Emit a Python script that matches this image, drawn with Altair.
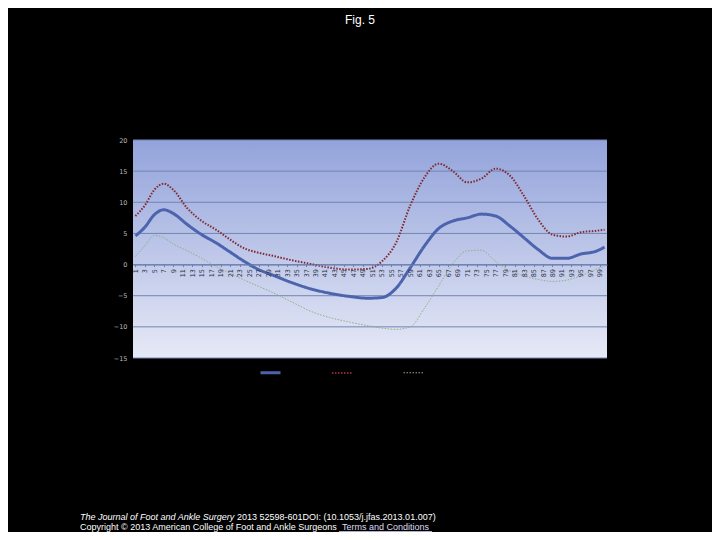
import altair as alt
import pandas as pd

# ---- data ----
pct = [1, 3, 5, 7, 9, 12, 15, 18, 21, 24, 27, 30, 34, 38, 42, 46, 50, 53, 56, 59,
       62, 65, 68, 71, 74, 77, 80, 83, 86, 89, 92, 95, 98, 100]
mean_vals = [4.6, 6.0, 8.0, 8.8, 8.2, 6.4, 4.8, 3.5, 2.0, 0.5, -0.8, -1.7, -2.9, -3.9,
             -4.6, -5.1, -5.4, -5.3, -3.8, -0.5, 3.0, 5.8, 7.0, 7.5, 8.1, 7.8, 6.2,
             4.3, 2.4, 1.0, 1.0, 1.7, 2.1, 2.8]
upper_vals = [7.8, 9.5, 12.0, 13.0, 12.0, 9.0, 7.0, 5.6, 4.0, 2.6, 1.9, 1.4, 0.7, 0.1,
              -0.5, -0.8, -0.7, 0.5, 3.5, 9.5, 14.0, 16.2, 15.0, 13.2, 13.8, 15.4,
              14.3, 11.0, 7.2, 4.8, 4.5, 5.2, 5.4, 5.6]
lower_vals = [1.3, 3.0, 4.7, 4.3, 3.3, 2.2, 1.0, -0.3, -1.4, -2.5, -3.5, -4.5, -6.0,
              -7.5, -8.5, -9.2, -9.8, -10.2, -10.4, -10.0, -7.0, -3.4, 0.2, 2.2, 2.3,
              0.5, -1.0, -1.8, -2.4, -2.7, -2.5, -1.8, -0.8, -0.3]
series_names = ["Mean", "Mean + SD", "Mean - SD"]
x_ticks = list(range(1, 100, 2))
y_ticks = [-15, -10, -5, 0, 5, 10, 15, 20]

title_text = "Fig. 5"
footer_italic = "The Journal of Foot and Ankle Surgery"
footer_rest = "2013 52598-601DOI: (10.1053/j.jfas.2013.01.007)"
footer_line2 = "Copyright \u00a9 2013 American College of Foot and Ankle Surgeons"
footer_link = "Terms and Conditions"

rows = []
for name, vals in zip(series_names, [mean_vals, upper_vals, lower_vals]):
    for p, v in zip(pct, vals):
        rows.append({"pct": p, "value": v, "series": name})
df = pd.DataFrame(rows)

W, H = 474, 218
zero_y = H * 20 / 35

x_scale = alt.Scale(domain=[0.5, 100.5], nice=False, zero=False)
y_scale = alt.Scale(domain=[-15, 20], nice=False, zero=False)

x_axis = alt.Axis(values=x_ticks, labelAngle=270, labelFontSize=6.5,
                  labelColor="#2a2f45", labelPadding=2, ticks=True,
                  tickSize=2, tickColor="#6f7fb0", domainColor="#6f7fb0",
                  grid=False, title=None, offset=-(H - zero_y), zindex=1,
                  labelFont="DejaVu Sans", labelOverlap=False)
y_axis = alt.Axis(values=y_ticks, labelFontSize=6.5, labelColor="#bbbbbb",
                  ticks=False, domain=False, grid=False, title=None,
                  labelPadding=6, labelFont="DejaVu Sans")

bg = alt.Chart(pd.DataFrame({"a": [0]})).mark_rect(
    fill=alt.LinearGradient(gradient="linear", x1=0, x2=0, y1=0, y2=1,
                            stops=[alt.GradientStop(offset=0, color="#93a3db"),
                                   alt.GradientStop(offset=1, color="#e6e9f6")])
).encode(x=alt.value(0), x2=alt.value(W), y=alt.value(0), y2=alt.value(H))

grid = alt.Chart(pd.DataFrame({"value": y_ticks})).mark_rule(
    color="#7384b4", strokeWidth=1).encode(
    y=alt.Y("value:Q", scale=y_scale, axis=y_axis), x=alt.value(0), x2=alt.value(W))

lines = alt.Chart(df).mark_line(interpolate="monotone").encode(
    x=alt.X("pct:Q", scale=x_scale, axis=x_axis),
    y=alt.Y("value:Q", scale=y_scale, axis=y_axis),
    color=alt.Color("series:N", scale=alt.Scale(domain=series_names,
                    range=["#4c64ad", "#7e2a30", "#8fae86"]),
                    legend=alt.Legend(orient="none", legendX=126, legendY=221,
                                      direction="horizontal", title=None,
                                      symbolType="stroke", symbolSize=400,
                                      labelColor="#000000", labelFontSize=10,
                                      columnPadding=5, gridAlign="all",
                                      labelLimit=40)),
    strokeDash=alt.StrokeDash("series:N", scale=alt.Scale(domain=series_names,
                              range=[[1, 0], [1.5, 1.5], [1.5, 1.5]]), legend=None),
    strokeWidth=alt.StrokeWidth("series:N", scale=alt.Scale(domain=series_names,
                                range=[3, 1.0, 1.0]), legend=None),
    order=alt.Order("pct:Q"),
)

def txt(text, x, y, **kw):
    return alt.Chart(pd.DataFrame({"t": [text]})).mark_text(**kw).encode(
        x=alt.value(x), y=alt.value(y), text="t:N")

fs = 9
title = txt(title_text, 227, -120, fontSize=12, color="white", font="Liberation Sans",
            align="center", baseline="middle")
f1 = txt(footer_italic, -53, 377, fontSize=fs, color="white", font="Liberation Sans",
         fontStyle="italic", align="left", baseline="middle")
f2 = txt(footer_rest, 104, 377, fontSize=fs, color="white", font="Liberation Sans",
         align="left", baseline="middle")
f3 = txt(footer_line2, -53, 387, fontSize=fs, color="white", font="Liberation Sans",
         align="left", baseline="middle")
f4 = txt(footer_link, 209, 387, fontSize=fs, color="#dcdcf4", font="Liberation Sans",
         align="left", baseline="middle")
ul = alt.Chart(pd.DataFrame({"a": [0]})).mark_rule(color="#dcdcf4", strokeWidth=0.8).encode(
    x=alt.value(206), x2=alt.value(299), y=alt.value(391.5))

chart = alt.layer(bg, grid, lines, title, f1, f2, f3, f4, ul).properties(
    width=W, height=H,
    autosize=alt.AutoSizeParams(type="none"),
    padding={"left": 125, "top": 132, "right": 105, "bottom": 174},
    background="black",
).configure_view(stroke=None)

chart.save("out.html", embed_options={"renderer": "svg", "actions": False})
